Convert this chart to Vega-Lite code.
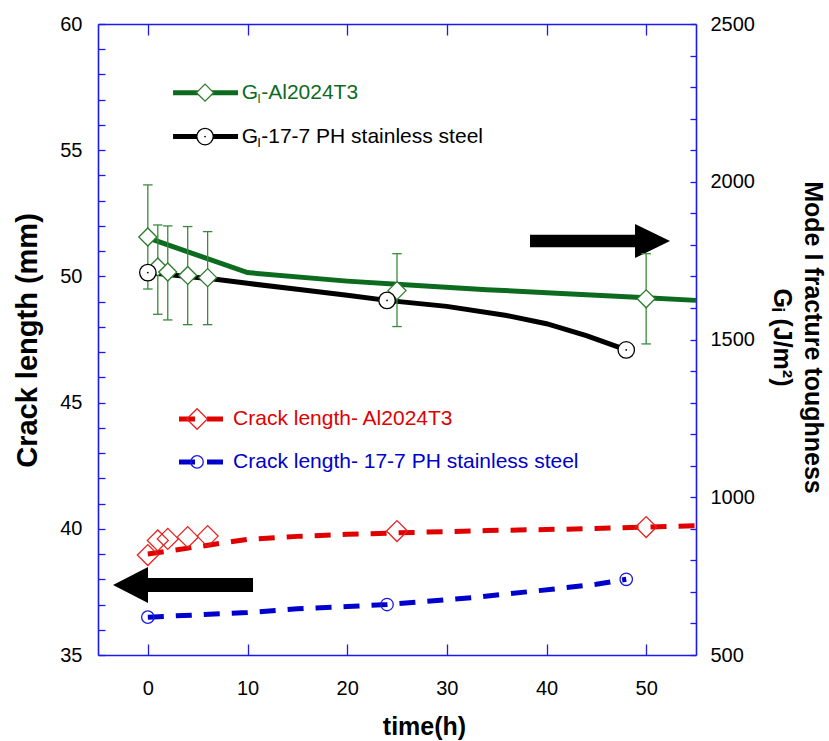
{
  "$schema": "https://vega.github.io/schema/vega-lite/v6.json",
  "width": 598,
  "height": 631,
  "autosize": {"type": "none"},
  "padding": {"left": 98, "top": 24, "right": 133, "bottom": 86},
  "background": "white",
  "config": {
    "view": {"stroke": null},
    "font": "Liberation Sans",
    "axis": {
      "grid": false,
      "labelFont": "Liberation Sans",
      "labelFontSize": 20,
      "labelColor": "#000000",
      "labelOverlap": false,
      "domainColor": "#1a1aee",
      "tickColor": "#1a1aee",
      "domainWidth": 1.6,
      "tickWidth": 1.3,
      "titleFont": "Liberation Sans",
      "titleFontWeight": "bold",
      "titleColor": "#000000"
    }
  },
  "datasets": {
    "ga": [
      {"time": 0, "value": 1825, "lo": 1660, "hi": 1990},
      {"time": 1, "value": 1730, "lo": 1580, "hi": 1863},
      {"time": 2, "value": 1714, "lo": 1562, "hi": 1860},
      {"time": 4, "value": 1703, "lo": 1547, "hi": 1858},
      {"time": 6, "value": 1696, "lo": 1547, "hi": 1842},
      {"time": 25, "value": 1655, "lo": 1541, "hi": 1772},
      {"time": 50, "value": 1629, "lo": 1486, "hi": 1772}
    ],
    "gs": [
      {"time": 0, "value": 1712},
      {"time": 24, "value": 1624},
      {"time": 48, "value": 1467}
    ],
    "gaFit": [
      {"time": 0, "value": 1822},
      {"time": 10, "value": 1712},
      {"time": 20, "value": 1685},
      {"time": 25, "value": 1675},
      {"time": 34, "value": 1658},
      {"time": 42, "value": 1645},
      {"time": 50, "value": 1632},
      {"time": 55, "value": 1624}
    ],
    "gsFit": [
      {"time": 0, "value": 1712},
      {"time": 7, "value": 1690},
      {"time": 10, "value": 1678},
      {"time": 15, "value": 1659},
      {"time": 20, "value": 1640},
      {"time": 24, "value": 1624},
      {"time": 30, "value": 1605},
      {"time": 36, "value": 1576},
      {"time": 40, "value": 1550},
      {"time": 44, "value": 1512},
      {"time": 48, "value": 1467}
    ],
    "ca": [
      {"time": 0, "value": 38.96},
      {"time": 1, "value": 39.54},
      {"time": 2, "value": 39.6},
      {"time": 4, "value": 39.67},
      {"time": 6, "value": 39.71},
      {"time": 25, "value": 39.91},
      {"time": 50, "value": 40.07}
    ],
    "cs": [
      {"time": 0, "value": 36.5},
      {"time": 24, "value": 37.0},
      {"time": 48, "value": 38.0}
    ],
    "caFit": [
      {"time": 0, "value": 39.0},
      {"time": 10, "value": 39.58},
      {"time": 15, "value": 39.7},
      {"time": 20, "value": 39.78},
      {"time": 25, "value": 39.84},
      {"time": 34, "value": 39.93},
      {"time": 44, "value": 40.0},
      {"time": 50, "value": 40.07},
      {"time": 55, "value": 40.12}
    ],
    "csFit": [
      {"time": 0, "value": 36.5},
      {"time": 5, "value": 36.59},
      {"time": 10, "value": 36.68},
      {"time": 15, "value": 36.83},
      {"time": 20, "value": 36.92},
      {"time": 24, "value": 37.0},
      {"time": 28, "value": 37.13},
      {"time": 33, "value": 37.29},
      {"time": 36, "value": 37.42},
      {"time": 39, "value": 37.54},
      {"time": 42, "value": 37.67},
      {"time": 45, "value": 37.8},
      {"time": 48, "value": 38.0}
    ],
    "notes": [
      {"key": "right", "time": 45.37, "value": 51.4},
      {"key": "left", "time": 3.53, "value": 37.77}
    ],
    "legend": [
      {"key": "gAl", "label": "-Al2024T3", "time": 5.74, "t1": 2.53, "t2": 9.05, "tt": 9.42, "value": 57.28},
      {"key": "gSS", "label": "-17-7 PH stainless steel", "time": 5.74, "t1": 2.53, "t2": 9.05, "tt": 9.42, "value": 55.54},
      {"key": "cAl", "label": "Crack length- Al2024T3", "time": 4.94, "t1": 3.13, "t2": 7.54, "tt": 8.55, "value": 44.35},
      {"key": "cSS", "label": "Crack length- 17-7 PH stainless steel", "time": 4.94, "t1": 3.13, "t2": 7.54, "tt": 8.55, "value": 42.65}
    ]
  },
  "layer": [
    {
      "layer": [
        {
          "data": {"name": "caFit"},
          "mark": {"type": "line", "color": "#e00000", "strokeWidth": 5, "strokeDash": [16, 12]},
          "encoding": {
            "x": {"field": "time", "type": "quantitative", "scale": {"domain": [-5, 55], "nice": false, "zero": false},
              "axis": {"orient": "bottom", "values": [0, 10, 20, 30, 40, 50], "ticks": false, "tickSize": 0, "labelPadding": 23, "labelOverlap": false, "title": "time(h)", "titleFontSize": 25, "titleX": 326, "titleY": 71, "titleBaseline": "middle", "titleAlign": "center"}},
            "y": {"field": "value", "type": "quantitative", "scale": {"domain": [35, 60], "nice": false, "zero": false},
              "axis": {"orient": "left", "values": [35, 40, 45, 50, 55, 60], "ticks": false, "tickSize": 0, "labelPadding": 16, "labelOverlap": false, "title": "Crack length (mm)", "titleFontSize": 29, "titleX": -71, "titleY": 316, "titleBaseline": "middle", "titleAlign": "center", "titleAngle": -90}}
          }
        },
        {
          "data": {"name": "csFit"},
          "mark": {"type": "line", "color": "#0000cc", "strokeWidth": 5, "strokeDash": [16, 12]},
          "encoding": {
            "x": {"field": "time", "type": "quantitative", "scale": {"domain": [-5, 55], "nice": false, "zero": false}},
            "y": {"field": "value", "type": "quantitative", "scale": {"domain": [35, 60], "nice": false, "zero": false}}
          }
        },
        {
          "data": {"name": "ca"},
          "mark": {"type": "point", "shape": "diamond", "size": 440, "filled": false, "stroke": "#e82020", "strokeWidth": 1.3, "opacity": 1},
          "encoding": {
            "x": {"field": "time", "type": "quantitative", "scale": {"domain": [-5, 55], "nice": false, "zero": false}},
            "y": {"field": "value", "type": "quantitative", "scale": {"domain": [35, 60], "nice": false, "zero": false}}
          }
        },
        {
          "data": {"name": "cs"},
          "mark": {"type": "point", "shape": "circle", "size": 154, "filled": false, "stroke": "#1a1add", "strokeWidth": 1.3, "opacity": 1},
          "encoding": {
            "x": {"field": "time", "type": "quantitative", "scale": {"domain": [-5, 55], "nice": false, "zero": false}},
            "y": {"field": "value", "type": "quantitative", "scale": {"domain": [35, 60], "nice": false, "zero": false}}
          }
        },
        {
          "data": {"name": "notes"},
          "transform": [{"filter": "datum.key === 'right'"}],
          "mark": {"type": "point", "shape": "M-1,-0.089L0.5,-0.089L0.5,-0.243L1,0L0.5,0.243L0.5,0.089L-1,0.089Z", "size": 19600, "filled": true, "fill": "#000000", "strokeWidth": 0, "opacity": 1},
          "encoding": {
            "x": {"field": "time", "type": "quantitative", "scale": {"domain": [-5, 55], "nice": false, "zero": false}},
            "y": {"field": "value", "type": "quantitative", "scale": {"domain": [35, 60], "nice": false, "zero": false}}
          }
        },
        {
          "data": {"name": "notes"},
          "transform": [{"filter": "datum.key === 'left'"}],
          "mark": {"type": "point", "shape": "M1,-0.1L-0.5,-0.1L-0.5,-0.257L-1,0L-0.5,0.257L-0.5,0.1L1,0.1Z", "size": 19600, "filled": true, "fill": "#000000", "strokeWidth": 0, "opacity": 1},
          "encoding": {
            "x": {"field": "time", "type": "quantitative", "scale": {"domain": [-5, 55], "nice": false, "zero": false}},
            "y": {"field": "value", "type": "quantitative", "scale": {"domain": [35, 60], "nice": false, "zero": false}}
          }
        },
        {
          "data": {"name": "legend"},
          "transform": [{"filter": "datum.key === 'gAl' || datum.key === 'gSS'"}],
          "mark": {"type": "rule", "strokeWidth": 5},
          "encoding": {
            "x": {"field": "t1", "type": "quantitative", "scale": {"domain": [-5, 55], "nice": false, "zero": false}},
            "x2": {"field": "t2"},
            "y": {"field": "value", "type": "quantitative", "scale": {"domain": [35, 60], "nice": false, "zero": false}},
            "color": {"field": "key", "type": "nominal", "scale": {"domain": ["gAl", "gSS", "cAl", "cSS"], "range": ["#0d6b1f", "#000000", "#e00000", "#0000cc"]}, "legend": null}
          }
        },
        {
          "data": {"name": "legend"},
          "transform": [{"filter": "datum.key === 'cAl' || datum.key === 'cSS'"}],
          "mark": {"type": "rule", "strokeWidth": 5, "strokeDash": [16, 12]},
          "encoding": {
            "x": {"field": "t1", "type": "quantitative", "scale": {"domain": [-5, 55], "nice": false, "zero": false}},
            "x2": {"field": "t2"},
            "y": {"field": "value", "type": "quantitative", "scale": {"domain": [35, 60], "nice": false, "zero": false}},
            "color": {"field": "key", "type": "nominal", "scale": {"domain": ["gAl", "gSS", "cAl", "cSS"], "range": ["#0d6b1f", "#000000", "#e00000", "#0000cc"]}, "legend": null}
          }
        },
        {
          "data": {"name": "legend"},
          "transform": [{"filter": "datum.key === 'gAl'"}],
          "mark": {"type": "point", "shape": "diamond", "size": 290, "filled": true, "fill": "#ffffff", "stroke": "#2b7b2b", "strokeWidth": 1.3, "opacity": 1},
          "encoding": {
            "x": {"field": "time", "type": "quantitative", "scale": {"domain": [-5, 55], "nice": false, "zero": false}},
            "y": {"field": "value", "type": "quantitative", "scale": {"domain": [35, 60], "nice": false, "zero": false}}
          }
        },
        {
          "data": {"name": "legend"},
          "transform": [{"filter": "datum.key === 'gSS'"}],
          "mark": {"type": "point", "shape": "circle", "size": 270, "filled": true, "fill": "#ffffff", "stroke": "#000000", "strokeWidth": 1.3, "opacity": 1},
          "encoding": {
            "x": {"field": "time", "type": "quantitative", "scale": {"domain": [-5, 55], "nice": false, "zero": false}},
            "y": {"field": "value", "type": "quantitative", "scale": {"domain": [35, 60], "nice": false, "zero": false}}
          }
        },
        {
          "data": {"name": "legend"},
          "transform": [{"filter": "datum.key === 'gSS'"}],
          "mark": {"type": "point", "shape": "circle", "size": 3, "filled": true, "fill": "#000000", "strokeWidth": 0, "opacity": 1},
          "encoding": {
            "x": {"field": "time", "type": "quantitative", "scale": {"domain": [-5, 55], "nice": false, "zero": false}},
            "y": {"field": "value", "type": "quantitative", "scale": {"domain": [35, 60], "nice": false, "zero": false}}
          }
        },
        {
          "data": {"name": "legend"},
          "transform": [{"filter": "datum.key === 'cAl'"}],
          "mark": {"type": "point", "shape": "diamond", "size": 420, "filled": false, "stroke": "#e82020", "strokeWidth": 1.3, "opacity": 1},
          "encoding": {
            "x": {"field": "time", "type": "quantitative", "scale": {"domain": [-5, 55], "nice": false, "zero": false}},
            "y": {"field": "value", "type": "quantitative", "scale": {"domain": [35, 60], "nice": false, "zero": false}}
          }
        },
        {
          "data": {"name": "legend"},
          "transform": [{"filter": "datum.key === 'cSS'"}],
          "mark": {"type": "point", "shape": "circle", "size": 154, "filled": false, "stroke": "#1a1add", "strokeWidth": 1.3, "opacity": 1},
          "encoding": {
            "x": {"field": "time", "type": "quantitative", "scale": {"domain": [-5, 55], "nice": false, "zero": false}},
            "y": {"field": "value", "type": "quantitative", "scale": {"domain": [35, 60], "nice": false, "zero": false}}
          }
        },
        {
          "data": {"name": "legend"},
          "transform": [{"filter": "datum.key === 'gAl' || datum.key === 'gSS'"}],
          "mark": {"type": "text", "text": "G", "align": "left", "baseline": "middle", "fontSize": 21, "font": "Liberation Sans"},
          "encoding": {
            "x": {"field": "tt", "type": "quantitative", "scale": {"domain": [-5, 55], "nice": false, "zero": false}},
            "y": {"field": "value", "type": "quantitative", "scale": {"domain": [35, 60], "nice": false, "zero": false}},
            "color": {"field": "key", "type": "nominal", "scale": {"domain": ["gAl", "gSS", "cAl", "cSS"], "range": ["#0d6b1f", "#000000", "#e00000", "#0000cc"]}, "legend": null}
          }
        },
        {
          "data": {"name": "legend"},
          "transform": [{"filter": "datum.key === 'gAl' || datum.key === 'gSS'"}],
          "mark": {"type": "text", "text": "I", "align": "left", "baseline": "middle", "fontSize": 13, "dx": 15.5, "dy": 6, "font": "Liberation Sans"},
          "encoding": {
            "x": {"field": "tt", "type": "quantitative", "scale": {"domain": [-5, 55], "nice": false, "zero": false}},
            "y": {"field": "value", "type": "quantitative", "scale": {"domain": [35, 60], "nice": false, "zero": false}},
            "color": {"field": "key", "type": "nominal", "scale": {"domain": ["gAl", "gSS", "cAl", "cSS"], "range": ["#0d6b1f", "#000000", "#e00000", "#0000cc"]}, "legend": null}
          }
        },
        {
          "data": {"name": "legend"},
          "transform": [{"filter": "datum.key === 'gAl' || datum.key === 'gSS'"}],
          "mark": {"type": "text", "align": "left", "baseline": "middle", "fontSize": 21, "dx": 19.5, "font": "Liberation Sans"},
          "encoding": {
            "x": {"field": "tt", "type": "quantitative", "scale": {"domain": [-5, 55], "nice": false, "zero": false}},
            "y": {"field": "value", "type": "quantitative", "scale": {"domain": [35, 60], "nice": false, "zero": false}},
            "text": {"field": "label"},
            "color": {"field": "key", "type": "nominal", "scale": {"domain": ["gAl", "gSS", "cAl", "cSS"], "range": ["#0d6b1f", "#000000", "#e00000", "#0000cc"]}, "legend": null}
          }
        },
        {
          "data": {"name": "legend"},
          "transform": [{"filter": "datum.key === 'cAl' || datum.key === 'cSS'"}],
          "mark": {"type": "text", "align": "left", "baseline": "middle", "fontSize": 21, "font": "Liberation Sans"},
          "encoding": {
            "x": {"field": "tt", "type": "quantitative", "scale": {"domain": [-5, 55], "nice": false, "zero": false}},
            "y": {"field": "value", "type": "quantitative", "scale": {"domain": [35, 60], "nice": false, "zero": false}},
            "text": {"field": "label"},
            "color": {"field": "key", "type": "nominal", "scale": {"domain": ["gAl", "gSS", "cAl", "cSS"], "range": ["#0d6b1f", "#000000", "#e00000", "#0000cc"]}, "legend": null}
          }
        }
      ]
    },
    {
      "layer": [
        {
          "data": {"name": "gaFit"},
          "mark": {"type": "line", "color": "#0d6b1f", "strokeWidth": 5},
          "encoding": {
            "x": {"field": "time", "type": "quantitative", "scale": {"domain": [-5, 55], "nice": false, "zero": false},
              "axis": {"orient": "top", "ticks": false, "labels": false, "title": null}},
            "y": {"field": "value", "type": "quantitative", "scale": {"domain": [500, 2500], "nice": false, "zero": false},
              "axis": {"orient": "right", "values": [500, 1000, 1500, 2000, 2500], "format": "d", "ticks": false, "tickSize": 0, "labelPadding": 14, "labelOverlap": false, "title": ["Mode I fracture toughness", "Gᵢ (J/m²)"], "titleFontSize": 25, "titleX": 116, "titleY": 313, "titleBaseline": "middle", "titleAlign": "center", "titleAngle": 90, "titleLineHeight": 31}}
          }
        },
        {
          "data": {"name": "gsFit"},
          "mark": {"type": "line", "color": "#000000", "strokeWidth": 5},
          "encoding": {
            "x": {"field": "time", "type": "quantitative", "scale": {"domain": [-5, 55], "nice": false, "zero": false}},
            "y": {"field": "value", "type": "quantitative", "scale": {"domain": [500, 2500], "nice": false, "zero": false}}
          }
        },
        {
          "data": {"name": "ga"},
          "mark": {"type": "rule", "color": "#3b8a3b", "strokeWidth": 1.3},
          "encoding": {
            "x": {"field": "time", "type": "quantitative", "scale": {"domain": [-5, 55], "nice": false, "zero": false}},
            "y": {"field": "lo", "type": "quantitative", "scale": {"domain": [500, 2500], "nice": false, "zero": false}},
            "y2": {"field": "hi"}
          }
        },
        {
          "data": {"name": "ga"},
          "mark": {"type": "point", "shape": "stroke", "size": 90, "filled": false, "stroke": "#3b8a3b", "strokeWidth": 1.3, "opacity": 1},
          "encoding": {
            "x": {"field": "time", "type": "quantitative", "scale": {"domain": [-5, 55], "nice": false, "zero": false}},
            "y": {"field": "lo", "type": "quantitative", "scale": {"domain": [500, 2500], "nice": false, "zero": false}}
          }
        },
        {
          "data": {"name": "ga"},
          "mark": {"type": "point", "shape": "stroke", "size": 90, "filled": false, "stroke": "#3b8a3b", "strokeWidth": 1.3, "opacity": 1},
          "encoding": {
            "x": {"field": "time", "type": "quantitative", "scale": {"domain": [-5, 55], "nice": false, "zero": false}},
            "y": {"field": "hi", "type": "quantitative", "scale": {"domain": [500, 2500], "nice": false, "zero": false}}
          }
        },
        {
          "data": {"name": "ga"},
          "mark": {"type": "point", "shape": "diamond", "size": 324, "filled": true, "fill": "#ffffff", "stroke": "#2b7b2b", "strokeWidth": 1.3, "opacity": 1},
          "encoding": {
            "x": {"field": "time", "type": "quantitative", "scale": {"domain": [-5, 55], "nice": false, "zero": false}},
            "y": {"field": "value", "type": "quantitative", "scale": {"domain": [500, 2500], "nice": false, "zero": false}}
          }
        },
        {
          "data": {"name": "gs"},
          "mark": {"type": "point", "shape": "circle", "size": 270, "filled": true, "fill": "#ffffff", "stroke": "#000000", "strokeWidth": 1.3, "opacity": 1},
          "encoding": {
            "x": {"field": "time", "type": "quantitative", "scale": {"domain": [-5, 55], "nice": false, "zero": false}},
            "y": {"field": "value", "type": "quantitative", "scale": {"domain": [500, 2500], "nice": false, "zero": false}}
          }
        },
        {
          "data": {"name": "gs"},
          "mark": {"type": "point", "shape": "circle", "size": 3, "filled": true, "fill": "#000000", "strokeWidth": 0, "opacity": 1},
          "encoding": {
            "x": {"field": "time", "type": "quantitative", "scale": {"domain": [-5, 55], "nice": false, "zero": false}},
            "y": {"field": "value", "type": "quantitative", "scale": {"domain": [500, 2500], "nice": false, "zero": false}}
          }
        }
      ]
    },
    {
      "data": {"name": "cs"},
      "mark": {"type": "point", "opacity": 0},
      "encoding": {
        "x": {"field": "time", "type": "quantitative", "scale": {"domain": [-5, 55], "nice": false, "zero": false},
          "axis": {"orient": "top", "offset": -631, "values": [0, 10, 20, 30, 40, 50], "tickSize": 11, "labels": false, "domain": false, "title": null}},
        "y": {"field": "value", "type": "quantitative", "scale": {"domain": [35, 60], "nice": false, "zero": false},
          "axis": {"orient": "right", "offset": -598, "values": [35, 36, 37, 38, 39, 40, 41, 42, 43, 44, 45, 46, 47, 48, 49, 50, 51, 52, 53, 54, 55, 56, 57, 58, 59, 60], "tickSize": 7, "labels": false, "domain": false, "title": null}}
      }
    },
    {
      "data": {"name": "gs"},
      "mark": {"type": "point", "opacity": 0},
      "encoding": {
        "x": {"field": "time", "type": "quantitative", "scale": {"domain": [-5, 55], "nice": false, "zero": false},
          "axis": {"orient": "bottom", "offset": -631, "values": [0, 10, 20, 30, 40, 50], "tickSize": 11, "labels": false, "domain": false, "title": null}},
        "y": {"field": "value", "type": "quantitative", "scale": {"domain": [500, 2500], "nice": false, "zero": false},
          "axis": {"orient": "left", "offset": -598, "values": [500, 600, 700, 800, 900, 1000, 1100, 1200, 1300, 1400, 1500, 1600, 1700, 1800, 1900, 2000, 2100, 2200, 2300, 2400, 2500], "tickSize": 6, "labels": false, "domain": false, "title": null}}
      }
    }
  ],
  "resolve": {"scale": {"y": "independent"}, "axis": {"x": "independent", "y": "independent"}}
}
